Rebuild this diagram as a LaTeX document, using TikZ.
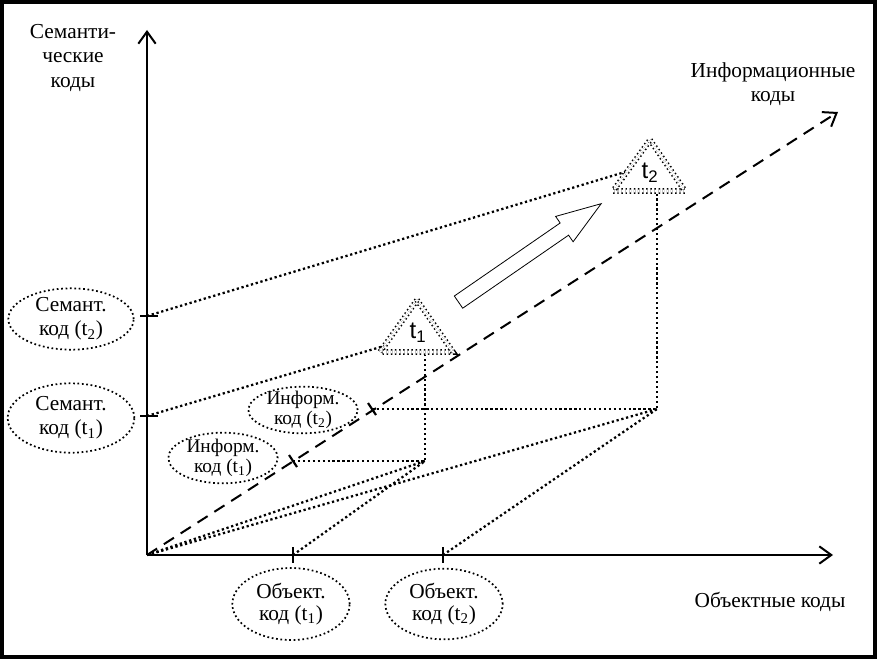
\documentclass[tikz,border=0pt]{standalone}
\usepackage{fontspec}
\setmainfont{Liberation Serif}
\newfontfamily\trifont{Liberation Sans}
\usetikzlibrary{arrows.meta,shapes.geometric,shapes.arrows}

\begin{document}
\begin{tikzpicture}[x=0.75pt, y=-0.75pt,
    font=\fontsize{16}{18}\selectfont,
    codebox/.style={shape=ellipse, draw=black, line width=1.3pt, dotted, align=center, inner sep=-8pt},
    proj/.style={draw=black, line width=1.7pt, dotted},
    tickmark/.style={draw=black, line width=2.2pt},
    axis/.style={draw=black, line width=1.5pt, -{Straight Barb[length=9pt,width=13pt,line width=1.5pt]}},
    tri/.style={draw=black, dotted, line width=1.1pt, double, double distance=2pt},
    tlabel/.style={font=\trifont\fontsize{18}{18}\selectfont, inner sep=0pt}]
    \useasboundingbox (0,0) rectangle (877,660);
    \draw[line width=2.5pt] (2,2) rectangle (875,657);
    % axes
    \coordinate (orig) at (147,555);
    \coordinate (ytip) at (147,30);
    \coordinate (xtip) at (833,555);
    \coordinate (itip) at (838,112);
    \draw[axis] (orig) -- (ytip);
    \draw[axis, line width=2.2pt] (orig) -- (xtip);
    \draw[axis, dash pattern=on 9pt off 6pt] (orig) -- (itip);
    \node[name=ylab, align=center] at (73,58) {Семанти-\\ческие\\коды};
    \node[name=ilab, align=center] at (773,84) {Информационные\\коды};
    \node[name=xlab] at (770,602) {Объектные коды};
    % ticks
    \coordinate (sy2) at (147,316);
    \coordinate (sy1) at (147,416);
    \coordinate (ox1) at (293,555);
    \coordinate (ox2) at (443,555);
    \coordinate (ix1) at (293,461);
    \coordinate (ix2) at (372,409);
    \draw[tickmark] (140,316) -- (158,316);
    \draw[tickmark] (140,416) -- (158,416);
    \draw[tickmark] (293,547) -- (293,563);
    \draw[tickmark] (443,547) -- (443,563);
    \draw[tickmark, line width=1.6pt] (289,455) -- (297,467);
    \draw[tickmark, line width=1.6pt] (368,403) -- (376,415);
    % points and triangles
    \coordinate (pone) at (425,461);
    \coordinate (ptwo) at (657,409);
    \coordinate (aone) at (417,300);
    \coordinate (lone) at (380,352);
    \coordinate (rone) at (453,352);
    \coordinate (atwo) at (650,140);
    \coordinate (ltwo) at (613,191);
    \coordinate (rtwo) at (685,191);
    \draw[tri] (aone) -- (rone) -- (lone) -- cycle;
    \draw[tri] (atwo) -- (rtwo) -- (ltwo) -- cycle;
    \node[name=tone, tlabel] at (418,333) {t\textsubscript{1}};
    \node[name=ttwo, tlabel] at (650,173) {t\textsubscript{2}};
    % projections
    \draw[proj] (ix1) -- (pone) -- (425,355);
    \draw[proj] (ix2) -- (ptwo) -- (657,194);
    \draw[proj] (orig) -- (pone);
    \draw[proj] (orig) -- (ptwo);
    \draw[proj] (ox1) -- (pone);
    \draw[proj] (ox2) -- (ptwo);
    \draw[proj] (sy1) -- (384,346);
    \draw[proj] (sy2) -- (625,172);
    % hollow arrow
    \node[name=move, single arrow, draw=black, line width=0.6pt, inner sep=5.25pt, minimum height=130pt, single arrow head extend=6pt, single arrow tip angle=38, rotate=34.6] at (521,259) {};
    % code ellipses
    \node[name=semtwo, codebox, minimum width=94pt, minimum height=46pt] at (71,319) {Семант.\\код (t\textsubscript{2})};
    \node[name=semone, codebox, minimum width=95pt, minimum height=52pt] at (71,418) {Семант.\\код (t\textsubscript{1})};
    \node[name=inftwo, codebox, font=\fontsize{14.5}{15}\selectfont, minimum width=82pt, minimum height=35pt] at (303,410) {Информ.\\код (t\textsubscript{2})};
    \node[name=infone, codebox, font=\fontsize{14.5}{15}\selectfont, minimum width=82pt, minimum height=38pt] at (223,458) {Информ.\\код (t\textsubscript{1})};
    \node[name=objone, codebox, font=\fontsize{16}{16}\selectfont, minimum width=88pt, minimum height=54pt] at (291,604) {Объект.\\код (t\textsubscript{1})};
    \node[name=objtwo, codebox, font=\fontsize{16}{16}\selectfont, minimum width=88pt, minimum height=53pt] at (444,604) {Объект.\\код (t\textsubscript{2})};
\end{tikzpicture}
\end{document}
